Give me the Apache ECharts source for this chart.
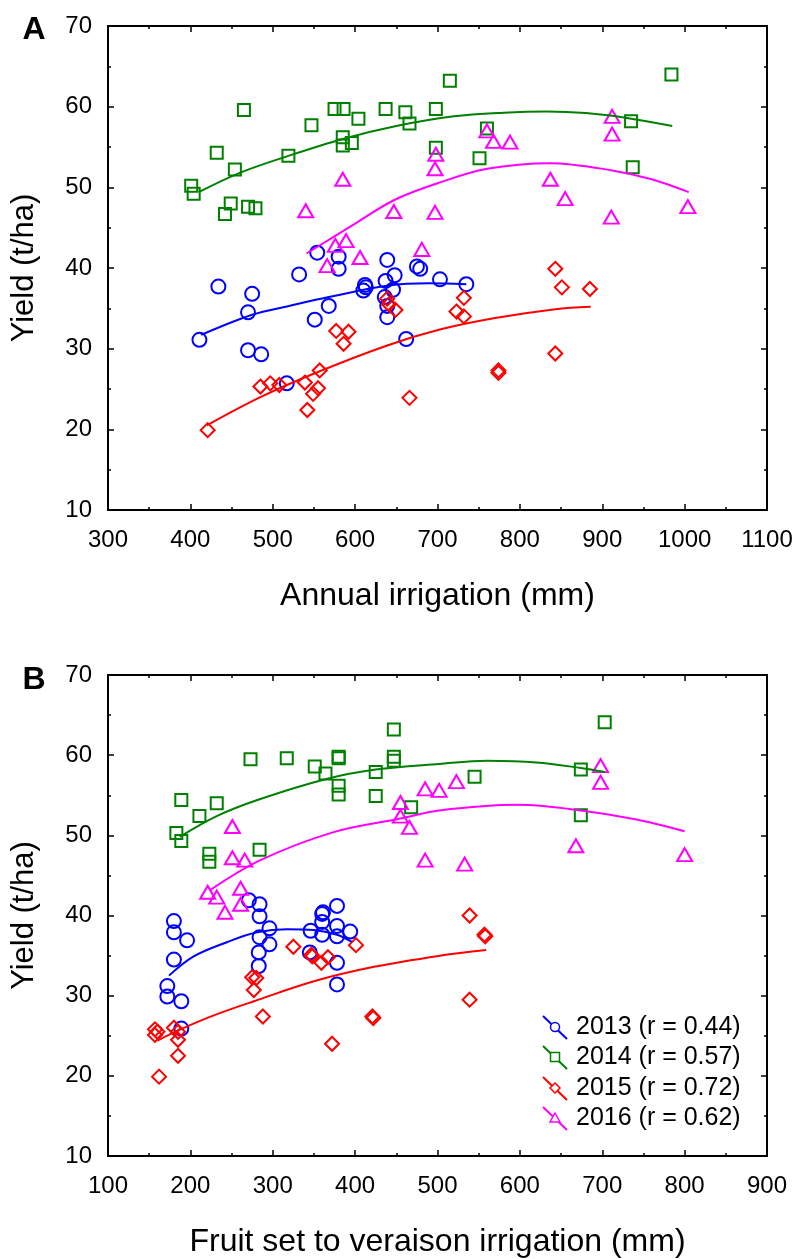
<!DOCTYPE html>
<html>
<head>
<meta charset="utf-8">
<script src="https://cdn.jsdelivr.net/npm/echarts@6/dist/echarts.min.js"></script>
<style>
html,body{margin:0;padding:0;background:#fff;}
#chart{width:798px;height:1259px;}
</style>
</head>
<body>
<div id="chart"></div>
<script>
// ---------- DATA ----------
const years = ['2013', '2014', '2015', '2016'];
const legendLabels = ['2013 (r = 0.44)', '2014 (r = 0.57)', '2015 (r = 0.72)', '2016 (r = 0.62)'];
const xTicksA = [300, 1100, 100];   // min, max, step
const xTicksB = [100, 900, 100];
const yTicks = [10, 70, 10];

// Panel A: annual irrigation (mm) vs yield (t/ha)
const A_2013 = [[411,31.1],[434,37.7],[475,36.8],[470,34.5],[470,29.8],[486,29.3],[517,25.7],[532,39.2],[554,41.9],[580,41.4],[580,39.9],[568,35.3],[551,33.6],[612,37.9],[613,37.6],[610,37.2],[639,41.0],[637,38.4],[648,39.1],[646,37.3],[636,36.4],[639,35.3],[639,33.9],[675,40.2],[679,39.9],[662,31.2],[703,38.6],[735,38.0]];
const A_2014 = [[401,50.2],[404,49.2],[432,54.3],[465,59.6],[454,52.2],[449,48.0],[442,46.7],[470,47.6],[479,47.4],[519,53.9],[547,57.7],[575,59.7],[586,59.7],[604,58.5],[585,56.2],[585,55.2],[596,55.5],[637,59.7],[661,59.3],[666,57.9],[698,59.7],[698,54.9],[715,63.2],[760,57.3],[751,53.6],[984,64.0],[935,58.2],[937,52.5]];
const A_2015 = [[421,19.9],[485,25.3],[497,25.7],[508,25.5],[539,25.8],[557,27.3],[549,24.4],[555,25.1],[542,22.4],[577,32.2],[592,32.1],[586,30.6],[639,36.2],[641,35.5],[649,34.8],[666,23.9],[732,36.3],[723,34.6],[732,34.0],[843,39.9],[851,37.6],[885,37.4],[843,29.4],[774,27.3],[774,27.0]];
const A_2016 = [[540,47.1],[585,51.0],[647,47.0],[697,46.9],[698,54.1],[697,52.3],[576,42.8],[589,43.4],[566,40.3],[606,41.3],[681,42.3],[760,57.0],[768,55.7],[788,55.6],[912,58.8],[912,56.6],[837,51.0],[855,48.6],[911,46.3],[1004,47.6]];

// Fitted curves
const A_fit2013 = [[413,31.7],[475,34.2],[520,35.3],[568,36.4],[639,37.8],[690,38.1],[735,38.0]];
const A_fit2014 = [[410,49.4],[460,51.8],[519,53.9],[585,56.0],[650,57.6],[720,58.8],[780,59.25],[833,59.4],[880,59.2],[930,58.6],[985,57.6]];
const A_fit2015 = [[420,20.5],[485,24.0],[557,27.2],[639,30.4],[704,32.4],[770,33.8],[843,34.9],[886,35.2]];
const A_fit2016 = [[541,41.8],[600,45.5],[647,48.4],[700,50.5],[760,52.3],[837,53.0],[912,52.1],[960,51.0],[1005,49.4]];

// Panel B: fruit set to veraison irrigation (mm) vs yield (t/ha)
const B_2013 = [[180,39.3],[180,37.9],[196,36.9],[180,34.5],[172,31.2],[172,29.9],[189,29.3],[189,25.9],[271,41.9],[284,41.4],[284,39.9],[296,38.4],[284,37.3],[296,36.4],[283,35.4],[283,33.7],[346,38.1],[360,40.2],[361,40.4],[360,39.2],[360,37.6],[378,41.2],[378,38.7],[378,37.4],[394,38.0],[345,35.4],[378,34.1],[378,31.4]];
const B_2014 = [[183,50.3],[189,49.3],[189,54.4],[211,52.4],[232,54.0],[223,47.7],[223,46.7],[284,48.2],[273,59.5],[317,59.6],[351,58.6],[364,57.7],[380,59.8],[380,59.6],[380,56.2],[380,55.1],[425,57.9],[425,54.9],[447,63.2],[447,59.8],[447,59.3],[468,53.5],[545,57.3],[703,64.1],[674,58.2],[674,52.5]];
const B_2015 = [[157,25.8],[160,25.5],[157,25.1],[180,26.0],[185,25.5],[185,24.5],[185,22.5],[162,19.9],[275,32.3],[280,32.2],[277,30.7],[288,27.4],[325,36.1],[347,35.1],[348,34.9],[359,34.1],[367,34.8],[401,36.3],[372,24.0],[421,27.4],[422,27.2],[539,40.0],[557,37.6],[558,37.4],[539,29.5]];
const B_2016 = [[251,51.1],[251,47.2],[266,46.9],[221,42.9],[232,42.3],[261,43.4],[261,41.4],[242,40.4],[455,54.1],[455,52.4],[466,51.0],[485,55.8],[502,55.6],[523,56.7],[698,58.7],[698,56.6],[485,46.9],[533,46.4],[668,48.7],[800,47.6]];

const B_fit2013 = [[174,32.5],[204,34.9],[245,36.7],[281,37.9],[317,38.3],[350,38.2],[378,37.6],[396,36.7]];
const B_fit2014 = [[187,49.8],[232,52.4],[284,54.5],[364,57.0],[425,58.2],[502,58.9],[560,59.3],[620,59.1],[674,58.4],[703,57.9]];
const B_fit2015 = [[160,24.4],[188,25.8],[230,27.6],[277,29.3],[350,31.8],[423,33.6],[504,35.0],[559,35.7]];
const B_fit2016 = [[223,43.1],[285,46.9],[374,50.4],[455,52.1],[502,53.1],[597,53.8],[674,53.1],[740,52.0],[800,50.5]];

// ---------- STYLE ----------
const colors = ['#0000ff', '#008000', '#ff0000', '#ff00ff'];
const symbols = ['circle', 'rect', 'diamond', 'triangle'];
const symSizes = [14, 12, 14, [15, 13]];
const FONT = '"Liberation Sans", Arial, sans-serif';

const chart = echarts.init(document.getElementById('chart'), null, {renderer: 'canvas'});

const grids = [
  {left: 108, right: 31, top: 26, height: 484},
  {left: 108, right: 31, top: 675, height: 484}
];

const tickCommon = {
  axisLine: {show: true, onZero: false, lineStyle: {color: '#000', width: 2}},
  axisTick: {show: true, inside: true, length: 6, lineStyle: {color: '#000', width: 1.5}},
  minorTick: {show: true, splitNumber: 2, length: 3, lineStyle: {color: '#000', width: 1.5}},
  splitLine: {show: false}
};

function xAxisPair(gi, ticks, name) {
  const base = Object.assign({gridIndex: gi, type: 'value', min: ticks[0], max: ticks[1], interval: ticks[2]}, tickCommon);
  return [
    Object.assign({}, base, {
      position: 'bottom',
      axisLabel: {color: '#000', fontSize: 24, fontFamily: FONT, margin: 18, formatter: v => String(v)},
      name: name, nameLocation: 'middle', nameGap: 70,
      nameTextStyle: {color: '#000', fontSize: 32, fontFamily: FONT}
    }),
    Object.assign({}, base, {position: 'top', axisLabel: {show: false}})
  ];
}
function yAxisPair(gi) {
  const base = Object.assign({gridIndex: gi, type: 'value', min: yTicks[0], max: yTicks[1], interval: yTicks[2]}, tickCommon);
  return [
    Object.assign({}, base, {
      position: 'left',
      axisLabel: {color: '#000', fontSize: 24, fontFamily: FONT, margin: 16, formatter: v => String(v)},
      name: 'Yield (t/ha)', nameLocation: 'middle', nameGap: 68,
      nameTextStyle: {color: '#000', fontSize: 31, fontFamily: FONT}
    }),
    Object.assign({}, base, {position: 'right', axisLabel: {show: false}})
  ];
}

const xAxes = [].concat(xAxisPair(0, xTicksA, 'Annual irrigation (mm)'), xAxisPair(1, xTicksB, 'Fruit set to veraison irrigation (mm)'));
const yAxes = [].concat(yAxisPair(0), yAxisPair(1));

const scatterA = [A_2013, A_2014, A_2015, A_2016];
const fitA = [A_fit2013, A_fit2014, A_fit2015, A_fit2016];
const scatterB = [B_2013, B_2014, B_2015, B_2016];
const fitB = [B_fit2013, B_fit2014, B_fit2015, B_fit2016];

const series = [];
[[scatterA, fitA, 0], [scatterB, fitB, 2]].forEach(([sc, ft, axisIdx]) => {
  for (let i = 0; i < 4; i++) {
    series.push({
      type: 'scatter', name: years[i], xAxisIndex: axisIdx, yAxisIndex: axisIdx,
      data: sc[i], symbol: symbols[i], symbolSize: symSizes[i],
      itemStyle: {color: 'rgba(0,0,0,0)', borderColor: colors[i], borderWidth: 2, opacity: 1},
      emphasis: {disabled: true}, silent: true, z: 3
    });
    series.push({
      type: 'line', name: years[i] + ' fit', xAxisIndex: axisIdx, yAxisIndex: axisIdx,
      data: ft[i], smooth: 0.35, showSymbol: false, symbol: 'none',
      lineStyle: {color: colors[i], width: 2}, silent: true, z: 4
    });
  }
});

// Legend drawn as graphics (diagonal line with marker, as in the reference)
const legendGraphics = [];
const rowY = [1027, 1057, 1088, 1118];
for (let i = 0; i < 4; i++) {
  const yc = rowY[i];
  const cx = 555;
  legendGraphics.push({type: 'line', shape: {x1: 543, y1: yc - 11, x2: 567, y2: yc + 12}, style: {stroke: colors[i], lineWidth: 2}});
  let shape;
  const st = {fill: '#fff', stroke: colors[i], lineWidth: 1.5};
  if (i === 0) shape = {type: 'circle', shape: {cx: cx, cy: yc, r: 4.5}, style: st};
  if (i === 1) shape = {type: 'rect', shape: {x: cx - 4.5, y: yc - 4.5, width: 9, height: 9}, style: st};
  if (i === 2) shape = {type: 'polygon', shape: {points: [[cx, yc - 5], [cx + 5, yc], [cx, yc + 5], [cx - 5, yc]]}, style: st};
  if (i === 3) shape = {type: 'polygon', shape: {points: [[cx, yc - 5], [cx + 5, yc + 4], [cx - 5, yc + 4]]}, style: st};
  legendGraphics.push(shape);
  legendGraphics.push({type: 'text', x: 576, y: yc, style: {text: legendLabels[i], fill: '#000', font: '25px ' + FONT, verticalAlign: 'middle', align: 'left'}});
}

const option = {
  backgroundColor: '#fff',
  animation: false,
  grid: grids,
  xAxis: xAxes,
  yAxis: yAxes,
  series: series,
  graphic: [
    {type: 'text', x: 34, y: 30, style: {text: 'A', fill: '#000', font: 'bold 32px ' + FONT, align: 'center', verticalAlign: 'middle'}},
    {type: 'text', x: 34, y: 680, style: {text: 'B', fill: '#000', font: 'bold 32px ' + FONT, align: 'center', verticalAlign: 'middle'}}
  ].concat(legendGraphics)
};
chart.setOption(option);
</script>
</body>
</html>
